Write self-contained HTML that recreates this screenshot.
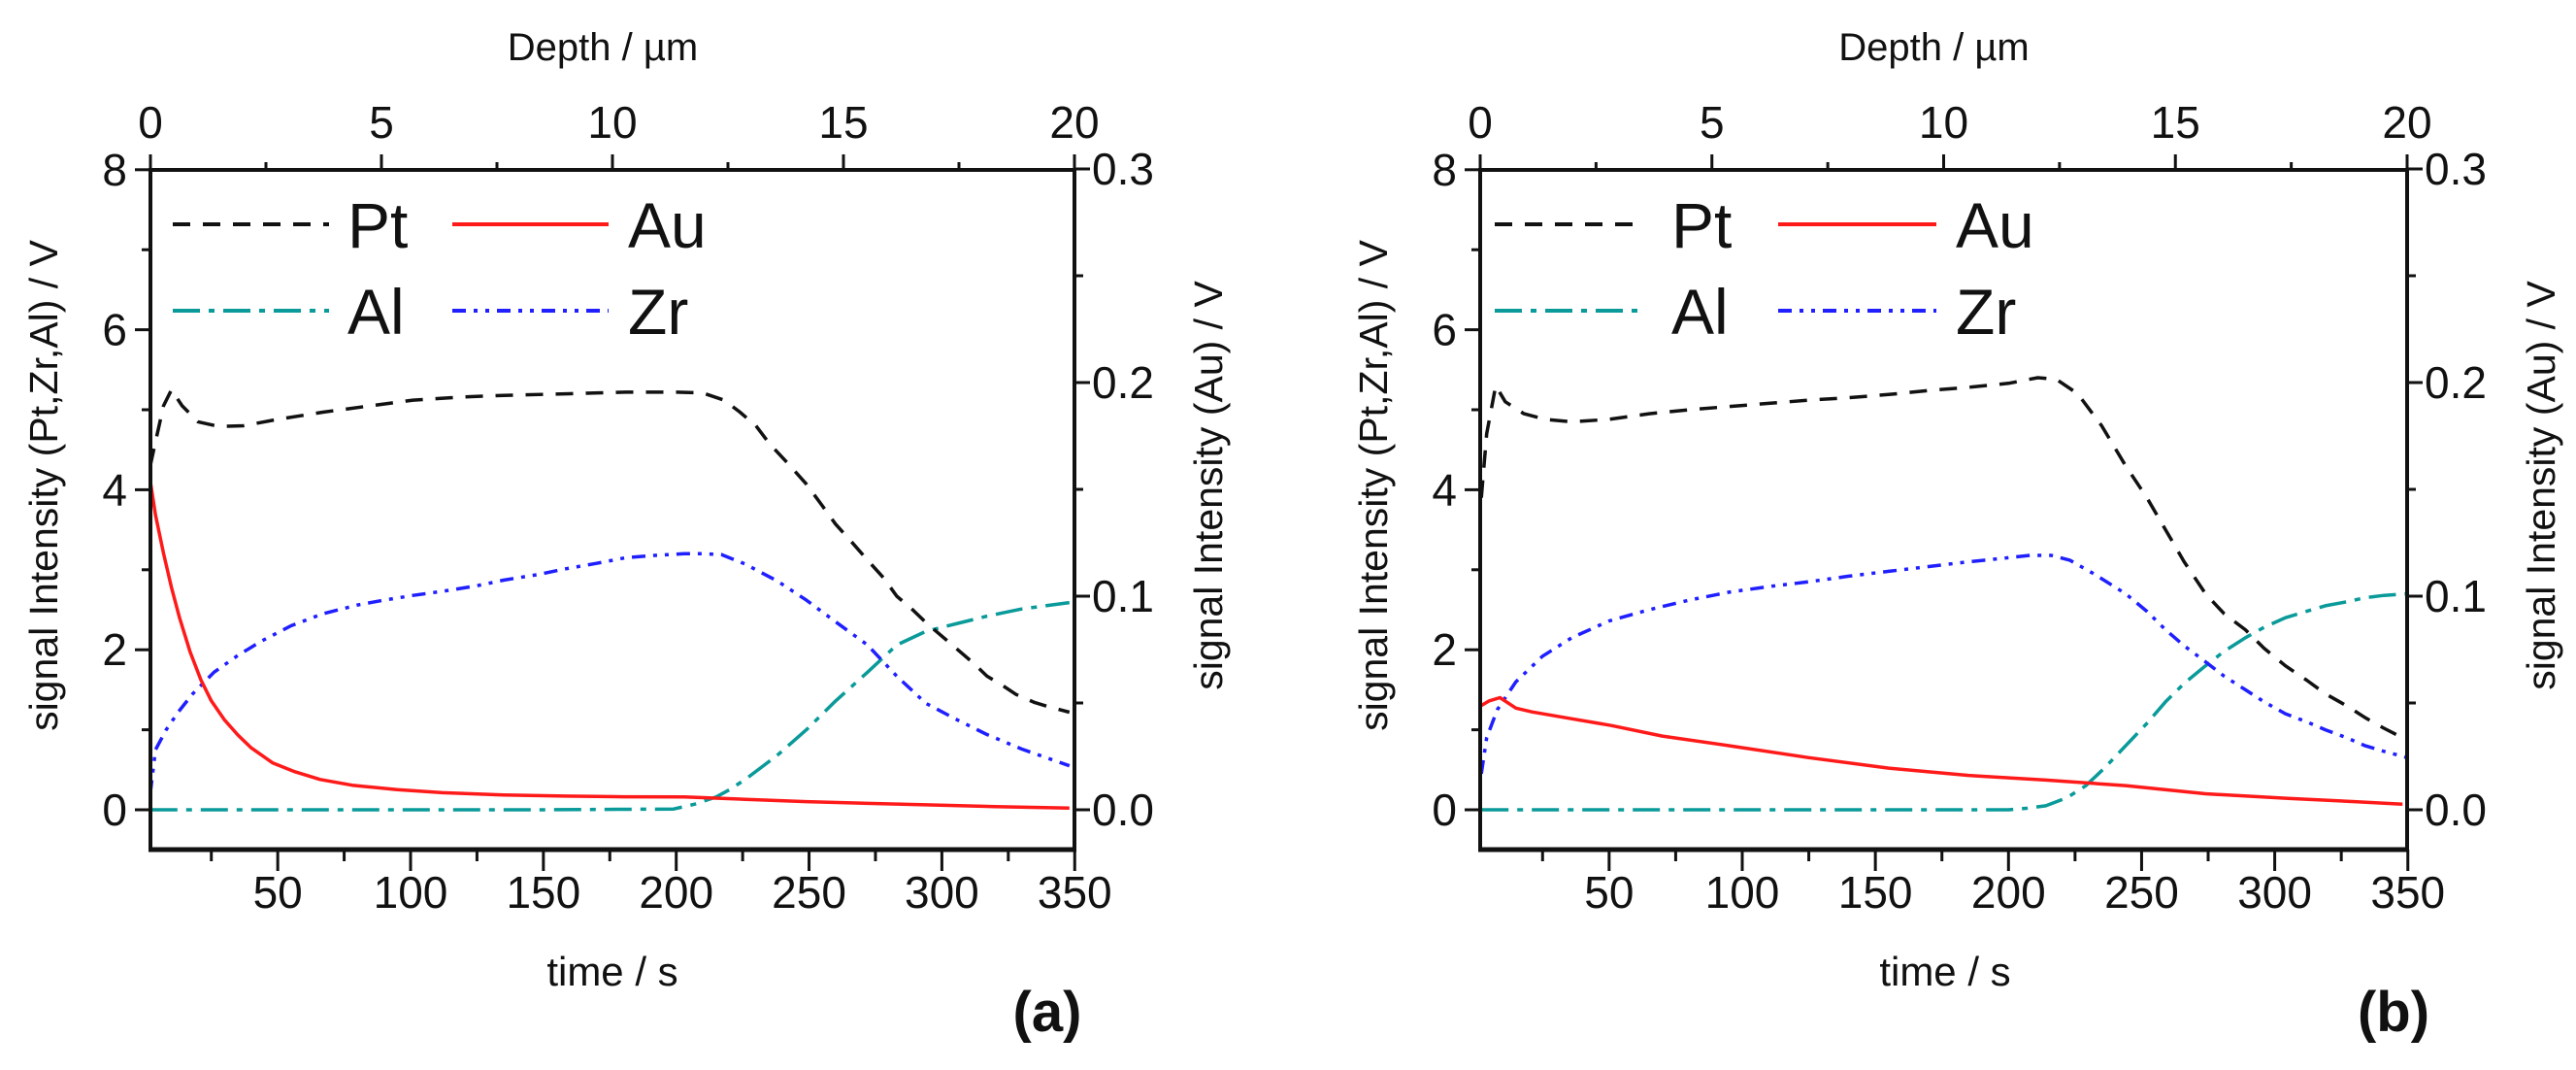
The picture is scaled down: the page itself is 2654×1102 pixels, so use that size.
<!DOCTYPE html>
<html><head><meta charset="utf-8"><style>
html,body{margin:0;padding:0;background:#fff;}
svg{display:block;font-family:"Liberation Sans",Arial,sans-serif;}
</style></head><body>
<svg id="fig" width="2654" height="1102" viewBox="0 0 2654 1102"></svg>
<script>
// ---- data (time in s, value in V) ----
const ptA_t=[2,4,7,10,14,20,28,37,50,67,85,101,120,135,160,181,200,210,218,224,230,235,242,249,255,260,266,272,278,283,289,294,300,306,312,317,323,328,335,341,348];
const ptA_v=[4.3,4.6,5.05,5.25,5.05,4.85,4.79,4.8,4.88,4.97,5.05,5.12,5.16,5.18,5.2,5.22,5.22,5.21,5.12,4.97,4.8,4.58,4.33,4.07,3.8,3.57,3.35,3.12,2.9,2.67,2.5,2.34,2.17,2.0,1.83,1.67,1.55,1.44,1.34,1.28,1.22];
const auA_t=[2,4,7,10,13,17,21,25,30,35,40,48,56,66,78,95,112,135,158,180,203,226,249,272,294,320,348];
const auA_v=[0.154,0.138,0.12,0.104,0.09,0.074,0.061,0.051,0.042,0.035,0.029,0.022,0.018,0.0142,0.0115,0.0094,0.008,0.0069,0.0064,0.0061,0.006,0.0049,0.0038,0.003,0.0023,0.0015,0.0008];
const zrA_t=[2,4,8,12.5,18,26,35,44,55,67,80,90,101,112,125,135,148,158,170,181,192,203,210,217,226,238,249,260,272,283,294,306,317,330,348];
const zrA_v=[0.2,0.75,1.0,1.22,1.45,1.72,1.93,2.11,2.3,2.45,2.56,2.62,2.68,2.73,2.8,2.87,2.94,3.01,3.08,3.15,3.18,3.2,3.2,3.19,3.07,2.86,2.62,2.35,2.06,1.67,1.33,1.12,0.94,0.76,0.55];
const alA_t=[2,50,100,150,199,207,215,220,226,238,249,260,272,283,294,306,317,330,348];
const alA_v=[0,0,0,0,0.01,0.07,0.16,0.25,0.38,0.68,1.0,1.36,1.72,2.06,2.23,2.33,2.42,2.51,2.59];

const ptB_t=[2,4,7.4,11,18,26,36,50,65,80,95,110,125,140,155,170,185,200,211,218,226,235,244,252,259,266,274,281,289,296,304,312,319,327,334,341,348];
const ptB_v=[3.9,4.7,5.3,5.1,4.95,4.88,4.85,4.88,4.95,5.0,5.04,5.08,5.12,5.15,5.19,5.24,5.28,5.33,5.4,5.38,5.2,4.8,4.3,3.9,3.5,3.1,2.7,2.45,2.25,2.02,1.8,1.62,1.45,1.3,1.15,1.02,0.9];
const auB_t=[2,5,9,15,21,35,51,70,95,125,155,185,214,244,274,305,330,348];
const auB_v=[0.0488,0.051,0.0525,0.0476,0.0458,0.0428,0.0394,0.0345,0.03,0.0244,0.0195,0.0161,0.0139,0.0113,0.0075,0.0053,0.0038,0.0026];
const zrB_t=[2,4,8,15,25,36,50,65,80,95,110,125,140,155,170,185,200,208,216,223,232,244,252,259,266,274,281,289,296,304,312,319,327,334,341,350];
const zrB_v=[0.45,0.9,1.25,1.6,1.92,2.15,2.36,2.5,2.62,2.72,2.79,2.85,2.92,2.98,3.04,3.1,3.15,3.18,3.18,3.12,2.95,2.7,2.48,2.25,2.05,1.85,1.67,1.5,1.35,1.2,1.1,1.0,0.9,0.8,0.73,0.65];
const alB_t=[2,50,100,150,200,207,214,222,229,236,244,252,259,266,274,281,289,296,304,312,319,327,334,341,350];
const alB_v=[0,0,0,0,0,0.02,0.05,0.15,0.3,0.52,0.8,1.08,1.35,1.58,1.8,1.98,2.15,2.28,2.4,2.48,2.55,2.6,2.65,2.68,2.7];

const yLeftTicks=[0,2,4,6,8];
const yRightTicks=["0.0","0.1","0.2","0.3"];
const xTicks=[50,100,150,200,250,300,350];
const depthTicks=[0,5,10,15,20];

const NS="http://www.w3.org/2000/svg";
const svg=document.getElementById('fig');
function mk(tag,attrs,parent,text){const e=document.createElementNS(NS,tag);for(const k in attrs)e.setAttribute(k,attrs[k]);if(text!==undefined)e.textContent=text;(parent||svg).appendChild(e);return e;}

function panel(cfg){
  const g=mk('g',{});
  
  
  const L=cfg.left,R=cfg.right,T=175,B=875;
  const x0=cfg.x0,xs=cfg.xs;
  const X=t=>x0+xs*t;
  const Y=v=>834-82.4*v;
  const YR=v=>834-(660/0.3)*v;
  const XD=d=>L+(R-L)*d/20;
  function series(ts,vs,yf,color,dash,nm){
    let d='';ts.forEach((t,i)=>{d+=(i?'L':'M')+X(t).toFixed(1)+' '+yf(vs[i]).toFixed(1);});
    const p=mk('path',{d:d,fill:'none',stroke:color,'stroke-width':3.5,'stroke-dasharray':dash,'stroke-linejoin':'round'},g);
    
    
  }
  series(cfg.al[0],cfg.al[1],Y,'#0a9a9a','28 9 6 9','al-line');
  series(cfg.zr[0],cfg.zr[1],Y,'#1f1fff','14 8 4 8 4 8','zr-line');
  series(cfg.au[0],cfg.au[1],YR,'#ff1a1a','','au-line');
  series(cfg.pt[0],cfg.pt[1],Y,'#111','18 13','pt-line');
  const ax='#111';
  mk('line',{x1:L,y1:T,x2:L,y2:B,stroke:ax,'stroke-width':4},g);
  mk('line',{x1:R,y1:T,x2:R,y2:B,stroke:ax,'stroke-width':4},g);
  mk('line',{x1:L-2,y1:T,x2:R+2,y2:T,stroke:ax,'stroke-width':4},g);
  mk('line',{x1:L-2,y1:B,x2:R+2,y2:B,stroke:ax,'stroke-width':5},g);
  for(let v=0;v<=8;v++){const y=Y(v);const maj=v%2===0;mk('line',{x1:L-(maj?16:9),y1:y,x2:L,y2:y,stroke:ax,'stroke-width':3},g);}
  yLeftTicks.forEach(v=>{const t=mk('text',{x:L-24,y:Y(v)+16,'font-size':46,'text-anchor':'end',fill:'#111'},g,String(v));});
  for(let i=0;i<=6;i++){const v=i*0.05;const y=YR(v);mk('line',{x1:R,y1:y,x2:R+(i%2===0?16:9),y2:y,stroke:ax,'stroke-width':3},g);}
  yRightTicks.forEach(s=>{const t=mk('text',{x:R+18,y:YR(parseFloat(s))+16,'font-size':46,fill:'#111'},g,s);});
  for(let t=25;t<=350;t+=25){const x=X(t);mk('line',{x1:x,y1:B,x2:x,y2:B+(t%50===0?22:12),stroke:ax,'stroke-width':3},g);}
  xTicks.forEach(t=>{const e=mk('text',{x:X(t),y:935,'font-size':46,'text-anchor':'middle',fill:'#111'},g,String(t));});
  for(let d=0;d<=20;d+=2.5){const x=XD(d);mk('line',{x1:x,y1:T,x2:x,y2:T-(d%5===0?16:8),stroke:ax,'stroke-width':3},g);}
  depthTicks.forEach(d=>{const e=mk('text',{x:XD(d),y:142,'font-size':46,'text-anchor':'middle',fill:'#111'},g,String(d));});
  let e=mk('text',{x:(L+R)/2-10,y:62,'font-size':40,'text-anchor':'middle',fill:'#111'},g,'Depth / µm');
  
  e=mk('text',{x:cfg.timeX,y:1015,'font-size':42,'text-anchor':'middle',fill:'#111'},g,'time / s');
  
  e=mk('text',{x:0,y:0,'font-size':41,'text-anchor':'middle',fill:'#111',transform:`translate(${L-96},500) rotate(-90)`},g,'signal Intensity (Pt,Zr,Al) / V');
  
  e=mk('text',{x:0,y:0,'font-size':41,'text-anchor':'middle',fill:'#111',transform:`translate(${R+152},500) rotate(-90)`},g,'signal Intensity (Au) / V');
  
  e=mk('text',{x:cfg.tagX,y:1062,'font-size':58,'font-weight':'bold','text-anchor':'middle',fill:'#111'},g,cfg.tag);
  
  const lg=mk('g',{},g);
  const o=cfg.leg;
  const rows=[[231,'Pt','#111','18 13',0],[231,'Au','#ff1a1a','',1],[320,'Al','#0a9a9a','28 9 6 9',0],[320,'Zr','#1f1fff','14 8 4 8 4 8',1]];
  rows.forEach(r=>{
    const xs0=L+(r[4]?o[3]:o[0]),xs1=L+(r[4]?o[4]:o[1]),xt=L+(r[4]?o[5]:o[2]);
    mk('line',{x1:xs0,y1:r[0],x2:xs1,y2:r[0],stroke:r[2],'stroke-width':4,'stroke-dasharray':r[3]},lg);
    const t=mk('text',{x:xt,y:r[0]+24,'font-size':66,fill:'#111'},lg,r[1]);
    
    
  });
}
panel({name:'panel-a',left:155,right:1107,x0:149.3,xs:2.737,tag:'(a)',tagX:1079,timeX:631,
  leg:[23,184,203,311,472,492],pt:[ptA_t,ptA_v],au:[auA_t,auA_v],zr:[zrA_t,zrA_v],al:[alA_t,alA_v]});
panel({name:'panel-b',left:1525,right:2480,x0:1520.7,xs:2.743,tag:'(b)',tagX:2466,timeX:2004,
  leg:[15,169,197,307,470,490],pt:[ptB_t,ptB_v],au:[auB_t,auB_v],zr:[zrB_t,zrB_v],al:[alB_t,alB_v]});
</script>
</body></html>
